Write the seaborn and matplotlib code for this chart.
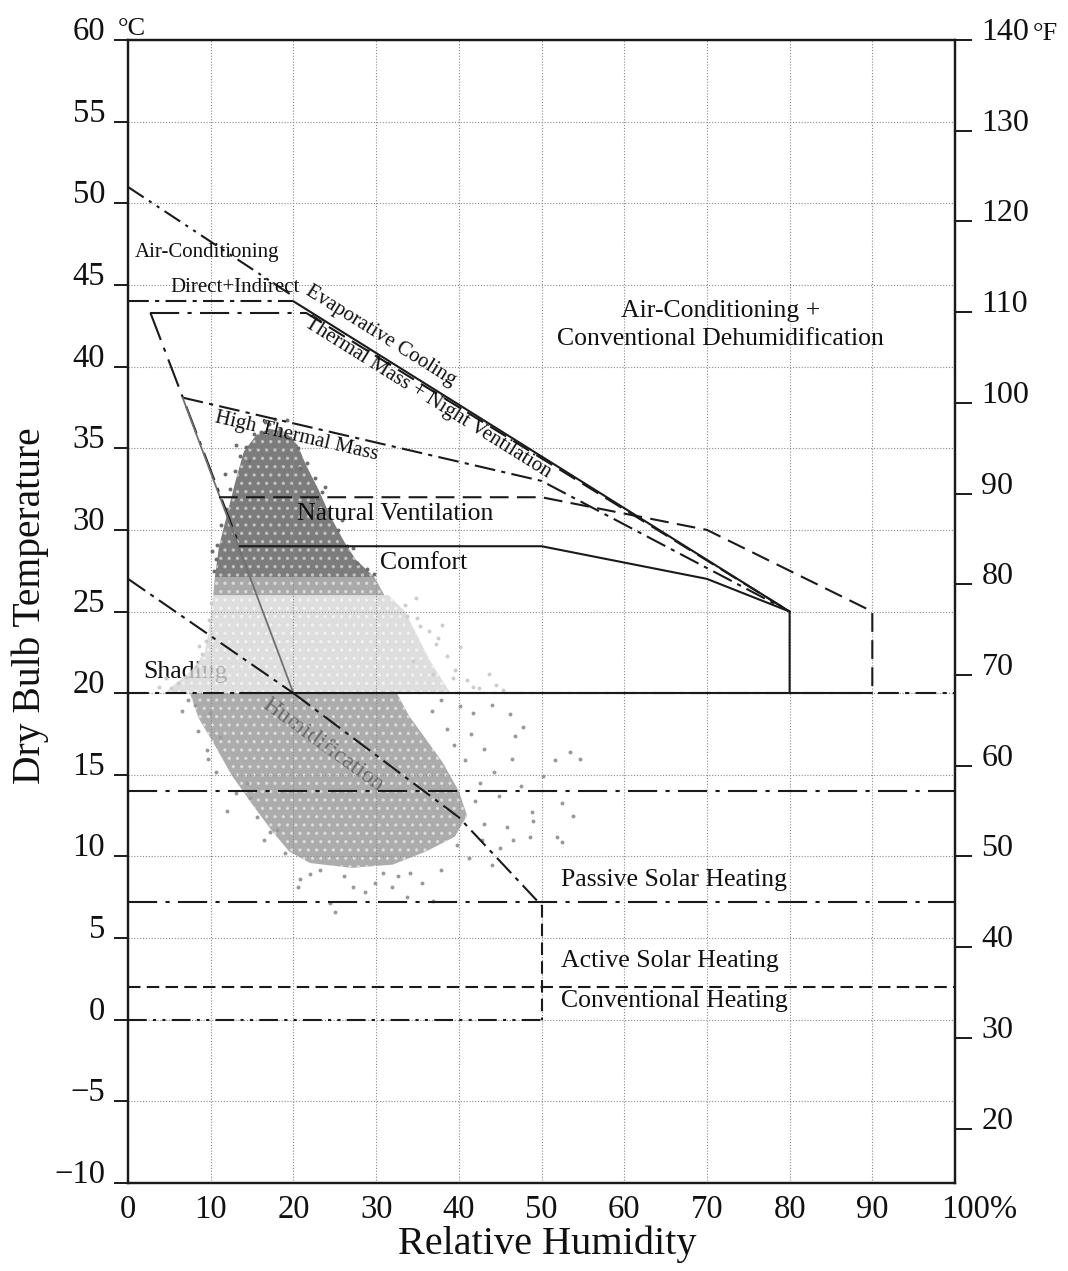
import matplotlib
matplotlib.use('Agg')
import matplotlib.pyplot as plt
import matplotlib.transforms as mtransforms
import seaborn as sns

# zone boundaries (RH %, dry bulb degC)
ac_rh = [0, 20]
ac_t = [51, 44.3]
direct_rh = [0, 20]
direct_t = [44, 44]
evap_rh = [20, 80]
evap_t = [44, 25]
night_top_rh = [2.7, 21.5]
night_top_t = [43.3, 43.3]
night_diag_rh = [21.5, 80]
night_diag_t = [43.3, 25]
night_left_rh = [2.7, 13.5]
night_left_t = [43.3, 29]
htm_rh = [6.6, 50, 80]
htm_t = [38.1, 33, 25]
edge_rh = [6.6, 20]
edge_t = [38.1, 20]
natvent_rh = [11, 50, 70, 90, 90]
natvent_t = [32, 32, 30, 25, 20]
comfort_rh = [13.5, 50, 70, 80, 80]
comfort_t = [29, 29, 27, 25, 20]
base_rh = [0, 100]
comfort_base_rh = [13.5, 90]
shading_rh = [0, 20]
shading_t = [27, 20]
humid_rh = [20, 40, 50]
humid_t = [20, 12.4, 7.0]
humid_side_rh = [50, 50]
humid_side_t = [7.0, 0]
conv_rh = [0, 50]
passive_top, passive_bottom, active_bottom, conv_bottom = 14, 7.2, 2, 0

# hourly climate cloud: dense bands (outlines) ...
dark_poly_rh = [10.5, 11.0, 12.0, 13.0, 14.0, 15.5, 17.0, 19.0, 20.5, 21.5, 23.0, 24.5, 26.0, 27.5, 29.8]
dark_poly_t = [27.1, 29.0, 31.0, 33.0, 34.8, 35.8, 36.2, 36.0, 35.2, 34.0, 32.5, 30.8, 29.4, 28.2, 27.1]
strip_poly_rh = [10.3, 10.5, 29.8, 31.0]
strip_poly_t = [26.0, 27.1, 27.1, 26.0]
light_poly_rh = [4.5, 5.5, 7.5, 9.3, 9.8, 10.3, 31.5, 33.5, 35.0, 36.5, 38.0, 39.0]
light_poly_t = [20.0, 20.5, 21.3, 22.5, 24.0, 26.0, 26.0, 25.0, 23.5, 22.0, 20.8, 20.0]
low_poly_rh = [7.5, 8.5, 10.5, 12.5, 15.0, 17.5, 19.5, 22.0, 27.0, 32.0, 36.0, 39.5, 41.0, 40.0, 38.0, 36.0, 34.0, 32.5]
low_poly_t = [20.0, 18.5, 16.8, 15.0, 13.2, 11.5, 10.3, 9.6, 9.3, 9.5, 10.3, 11.2, 12.5, 14.0, 15.8, 17.2, 18.6, 20.0]

# ... and the loose points around them
dark_rh = [15.2, 17.0, 18.4, 16.1, 19.6, 14.3, 20.5, 13.5, 21.6, 12.9, 22.6, 12.3, 23.5, 11.8, 24.3, 11.2,
           25.4, 10.8, 26.5, 10.6, 27.7, 28.9, 10.4, 13.1, 14.6, 20.8, 22.9, 25.9, 27.2, 11.7, 19.2, 23.8,
           29.8, 10.1, 17.8, 16.5]
dark_t = [35.9, 36.5, 36.2, 36.0, 35.6, 35.1, 35.0, 34.5, 34.1, 33.6, 33.2, 32.5, 32.3, 31.3, 31.2, 30.3,
          30.0, 29.1, 29.0, 28.2, 28.0, 27.6, 27.5, 35.2, 34.2, 33.8, 31.9, 30.6, 28.9, 33.4, 36.7, 32.6,
          27.3, 28.7, 36.8, 36.6]
light_rh = [6.0, 5.2, 7.0, 8.2, 9.0, 9.4, 9.8, 10.0, 33.5, 35.0, 36.4, 37.2, 38.6, 39.5, 41.0, 42.4,
            43.6, 44.5, 40.2, 38.0, 34.8, 45.3, 34.5, 36.9, 37.5, 41.7, 39.3, 35.3, 33.7, 4.6, 3.8, 8.6]
light_t = [20.6, 20.3, 21.0, 21.6, 22.4, 23.2, 24.5, 25.5, 25.4, 24.6, 23.8, 23.0, 22.3, 21.4, 20.8, 20.3,
           21.2, 20.5, 22.8, 24.2, 25.8, 20.2, 22.0, 21.2, 23.4, 20.4, 20.9, 24.1, 24.7, 20.9, 20.4, 22.9]
low_rh = [41.7, 44.0, 46.2, 47.8, 46.8, 46.4, 51.6, 53.4, 54.7, 52.5, 53.8, 51.9, 52.5, 48.6, 49.0, 45.8,
          46.6, 48.8, 45.0, 44.0, 43.0, 42.5, 44.2, 43.1, 41.5, 40.8, 42.0, 39.8, 41.2, 38.6, 40.1, 37.9,
          36.7, 39.4, 47.5, 50.2, 44.9, 42.8,
          25.0, 24.4, 29.9, 35.5, 34.1, 20.8, 20.6, 23.2, 27.2, 31.9, 28.7, 33.7, 36.9, 26.1, 30.8, 22.0,
          32.6, 37.8,
          12.0, 15.6, 9.5, 9.7, 8.1, 11.1, 14.8, 17.2, 18.0, 9.9, 14.4, 7.2, 6.5, 10.6, 13.1, 16.4, 19.0, 8.4]
low_t = [18.8, 19.3, 18.7, 17.9, 17.4, 16.0, 15.9, 16.4, 16.0, 13.3, 12.5, 11.2, 10.9, 11.2, 12.2, 11.8,
         11.0, 12.7, 10.5, 9.5, 12.0, 14.5, 15.2, 16.6, 17.5, 15.9, 13.4, 10.7, 9.9, 17.8, 19.2, 19.6,
         18.9, 16.8, 14.3, 14.9, 13.7, 11.0,
         6.6, 7.15, 8.4, 8.4, 9.0, 8.6, 8.1, 9.2, 8.1, 8.1, 7.8, 7.5, 7.3, 8.8, 9.0, 8.9,
         8.8, 9.2,
         12.8, 12.4, 16.5, 16.0, 19.3, 17.3, 13.6, 11.5, 11.6, 18.8, 14.5, 19.6, 18.9, 15.2, 13.9, 11.0, 10.2, 17.7]

x_ticks = list(range(0, 101, 10))
x_labels = [str(v) for v in x_ticks[:-1]] + ['100%']
c_ticks = list(range(-10, 61, 5))
f_ticks = list(range(20, 141, 10))

sns.set_theme(style='white')
plt.rcParams['font.family'] = ['Liberation Serif', 'DejaVu Serif']
plt.rcParams['hatch.linewidth'] = 1.2

fig = plt.figure(figsize=(10.68, 12.71), dpi=100)
ax = fig.add_axes([0.1199, 0.0692, 0.7743, 0.8993])
ax.set_xlim(0, 100)
ax.set_ylim(-10, 60)

# cloud (white speckle hatch gives the dotted look)
ax.fill(light_poly_rh, light_poly_t, facecolor='#d6d6d6', edgecolor='#f4f4f4', hatch='..', alpha=0.8,
        lw=0, zorder=1.2)
ax.fill(low_poly_rh, low_poly_t, facecolor='#8c8c8c', edgecolor='#e6e6e6', hatch='..', alpha=0.72,
        lw=0, zorder=1.2)
ax.fill(strip_poly_rh, strip_poly_t, facecolor='#9a9a9a', edgecolor='#dedede', hatch='..', alpha=0.85,
        lw=0, zorder=1.2)
ax.fill(dark_poly_rh, dark_poly_t, facecolor='#6a6a6a', edgecolor='#c8c8c8', hatch='..', alpha=0.88,
        lw=0, zorder=1.2)
sns.scatterplot(x=light_rh, y=light_t, ax=ax, s=8, color='#cdcdcd', linewidth=0, zorder=2.5, legend=False)
sns.scatterplot(x=low_rh, y=low_t, ax=ax, s=8, color='#9a9a9a', linewidth=0, zorder=2.5, legend=False)
sns.scatterplot(x=dark_rh, y=dark_t, ax=ax, s=8, color='#6e6e6e', linewidth=0, zorder=2.5, legend=False)

# zone lines
k = dict(color='#1a1a1a', lw=1.5, zorder=3)
dashdotdot = (0, (9, 3, 1.5, 3, 1.5, 3))
dashdot = (0, (10, 3, 2, 3))
longdashdot = (0, (14, 4, 2, 4))
dashed = (0, (9, 4))
ax.plot(ac_rh, ac_t, ls=dashdotdot, **k)
ax.plot(direct_rh, direct_t, ls=dashdot, **k)
ax.plot(evap_rh, evap_t, ls='-', **k)
ax.plot(night_top_rh, night_top_t, ls=longdashdot, **k)
ax.plot(night_diag_rh, night_diag_t, ls=dashed, **k)
ax.plot(night_left_rh, night_left_t, ls=longdashdot, **k)
ax.plot(htm_rh, htm_t, ls=dashdot, **k)
ax.plot(edge_rh, edge_t, ls='-', color='#707070', lw=1.3, zorder=3)
ax.plot(natvent_rh, natvent_t, ls=dashed, **k)
ax.plot(comfort_rh, comfort_t, ls='-', **k)
ax.plot(base_rh, [20, 20], ls=dashdot, **k)
ax.plot(comfort_base_rh, [20, 20], ls='-', **k)
ax.plot(shading_rh, shading_t, ls=dashdot, **k)
ax.plot(humid_rh, humid_t, ls=dashdot, **k)
ax.plot(humid_side_rh, humid_side_t, ls=(0, (6, 3)), **k)
ax.plot(conv_rh, [conv_bottom] * 2, ls=dashdotdot, **k)
ax.plot(base_rh, [passive_top] * 2, ls=longdashdot, **k)
ax.plot(base_rh, [passive_bottom] * 2, ls=longdashdot, **k)
ax.plot(base_rh, [active_bottom] * 2, ls=(0, (6, 3)), **k)

# zone names
t = dict(color='#111111', zorder=4)
ax.text(0.8, 47.0, 'Air-Conditioning', fontsize=15, ha='left', va='center', **t)
ax.text(5.1, 44.85, 'Direct+Indirect', fontsize=15, ha='left', va='center', **t)
ax.text(30.5, 41.9, 'Evaporative Cooling', fontsize=15, rotation=-32, ha='center', va='center',
        rotation_mode='anchor', **t)
ax.text(36.2, 38.1, 'Thermal Mass + Night Ventilation', fontsize=15, rotation=-32, ha='center',
        va='center', rotation_mode='anchor', **t)
ax.text(20.4, 35.7, 'High Thermal Mass', fontsize=15, rotation=-13, ha='center', va='center',
        rotation_mode='anchor', **t)
ax.text(20.4, 31.0, 'Natural Ventilation', fontsize=18.5, ha='left', va='center', **t)
ax.text(30.5, 28.0, 'Comfort', fontsize=18.5, ha='left', va='center', **t)
ax.text(71.6, 42.55, 'Air-Conditioning +\nConventional Dehumidification', fontsize=18.5, ha='center',
        va='center', multialignment='center', linespacing=1.3, **t)
ax.text(1.8, 21.3, 'Shading', fontsize=18.5, ha='left', va='center', color='#111111', zorder=1.1)
ax.text(23.6, 16.8, 'Humidification', fontsize=17, rotation=-36, ha='center', va='center',
        rotation_mode='anchor', color='#111111', zorder=1.1)
ax.text(52.4, 8.56, 'Passive Solar Heating', fontsize=18.5, ha='left', va='center', **t)
ax.text(52.4, 3.6, 'Active Solar Heating', fontsize=18.5, ha='left', va='center', **t)
ax.text(52.4, 1.15, 'Conventional Heating', fontsize=18.5, ha='left', va='center', **t)

# axes
ax.set_xticks(x_ticks)
ax.set_xticklabels(x_labels)
ax.set_yticks(c_ticks)
ax.grid(True, color='#8a8a8a', linestyle=(0, (1, 1.6)), linewidth=0.8)
ax.set_axisbelow('line')
ax.tick_params(axis='x', bottom=False, length=0, pad=8, labelsize=23.5, labelcolor='#111111')
ax.tick_params(axis='y', left=True, direction='out', length=10, width=1.4, pad=6.5, labelsize=23.5,
               color='#1a1a1a', labelcolor='#111111')
for lbl in ax.get_yticklabels():
    lbl.set_va('baseline')
last = ax.get_xticklabels()[-1]
last.set_transform(last.get_transform() + mtransforms.ScaledTranslation(0.24, 0, fig.dpi_scale_trans))
for s in ax.spines.values():
    s.set_linewidth(1.6)
    s.set_color('#1a1a1a')

ax.set_ylabel('Dry Bulb Temperature', fontsize=28.5, color='#111111')
ax.yaxis.set_label_coords(-0.095, 0.505)
ax.set_xlabel('Relative Humidity', fontsize=29, color='#111111')
ax.xaxis.set_label_coords(0.507, -0.037)
ax.text(-0.012, 1.004, '°C', transform=ax.transAxes, fontsize=19, ha='left', va='baseline', color='#111111')

ax2 = ax.twinx()
ax2.set_ylim(-10 * 1.8 + 32, 60 * 1.8 + 32)
ax2.set_yticks(f_ticks)
ax2.grid(False)
ax2.tick_params(axis='y', right=True, direction='out', length=12, width=1.4, pad=7, labelsize=23,
                color='#1a1a1a', labelcolor='#111111')
for lbl in ax2.get_yticklabels():
    lbl.set_va('baseline')
for s in ax2.spines.values():
    s.set_linewidth(1.6)
    s.set_color('#1a1a1a')
ax.text(1.094, 1.0, '°F', transform=ax.transAxes, fontsize=19, ha='left', va='baseline', color='#111111')

fig.savefig('out.png', dpi=100)
